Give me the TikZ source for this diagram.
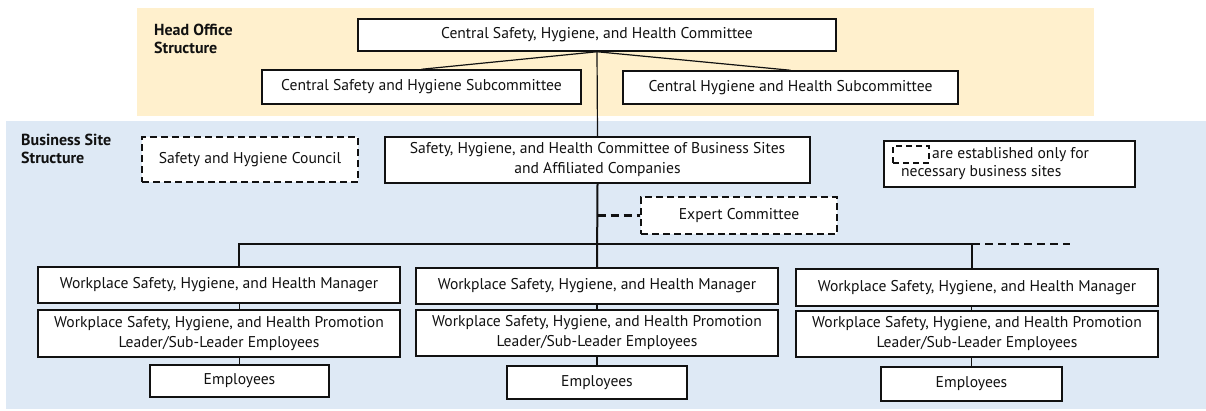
\documentclass[tikz,border=0pt]{standalone}
\usepackage{fontspec}
\setmainfont{PT Sans}
\definecolor{hqfill}{HTML}{FFF0CD}
\definecolor{bsfill}{HTML}{DEE9F5}
\definecolor{ink}{HTML}{111111}
\begin{document}
\begin{tikzpicture}[x=1pt,y=-1pt,
  txt/.style={font=\fontsize{15.6}{20}\selectfont,text=ink},
  box/.style={txt,draw=ink,line width=1.5pt,fill=white,inner sep=0pt,align=center},
  dbox/.style={box,dashed,dash pattern=on 7pt off 4pt,line width=1.8pt},
  lbl/.style={font=\bfseries\fontsize{16}{18}\selectfont,align=left,anchor=west,inner sep=0pt,text=ink},
  conn/.style={draw=ink,line width=1.2pt},
  thick conn/.style={draw=ink,line width=2pt},
  dconn/.style={draw=ink,line width=2.2pt,dash pattern=on 8pt off 5pt}]
\useasboundingbox (0,0) rectangle (1206,410);
\fill[hqfill] (137,8) rectangle (1094,116);
\fill[bsfill] (6,121) rectangle (1206,409);
\node[lbl] (hol) at (154,39) {Head Office\\Structure};
\node[lbl] (bsl) at (21,149) {Business Site\\Structure};
% head office
\node[box,minimum width=478pt,minimum height=32pt] (hq) at (597,35) {Central Safety, Hygiene, and Health Committee};
\node[box,minimum width=319pt,minimum height=34pt] (sub1) at (421.5,87) {Central Safety and Hygiene Subcommittee};
\node[box,minimum width=335pt,minimum height=33pt] (sub2) at (790.5,87.5) {Central Hygiene and Health Subcommittee};
% business site
\node[box,minimum width=425pt,minimum height=46pt] (bs) at (597.5,160) {Safety, Hygiene, and Health Committee of Business Sites\\and Affiliated Companies};
\node[dbox,minimum width=216pt,minimum height=45pt] (council) at (250,159.5) {Safety and Hygiene Council};
\node[box,minimum width=251pt,minimum height=46pt] (legend) at (1009.5,164) {};
\node[dbox,line width=1.6pt,dash pattern=on 6pt off 4pt,minimum width=36pt,minimum height=17pt] (key) at (911,154.5) {};
\node[txt,anchor=west,inner sep=0pt] (l1) at (932,155) {are established only for};
\node[txt,anchor=west,inner sep=0pt] (l2) at (901,173) {necessary business sites};
\node[dbox,minimum width=196pt,minimum height=37pt] (expert) at (739,215.5) {Expert Committee};
% workplaces
\node[box,minimum width=362pt,minimum height=36pt] (m1) at (219,285) {Workplace Safety, Hygiene, and Health Manager};
\node[box,minimum width=362pt,minimum height=36pt] (m2) at (597,286) {Workplace Safety, Hygiene, and Health Manager};
\node[box,minimum width=362pt,minimum height=37pt] (m3) at (977,287.5) {Workplace Safety, Hygiene, and Health Manager};
\node[box,minimum width=362pt,minimum height=47pt] (p1) at (219,333.5) {Workplace Safety, Hygiene, and Health Promotion\\Leader/Sub-Leader Employees};
\node[box,minimum width=362pt,minimum height=46pt] (p2) at (597,333) {Workplace Safety, Hygiene, and Health Promotion\\Leader/Sub-Leader Employees};
\node[box,minimum width=362pt,minimum height=46pt] (p3) at (977,334) {Workplace Safety, Hygiene, and Health Promotion\\Leader/Sub-Leader Employees};
\node[box,minimum width=179pt,minimum height=32pt] (e1) at (239.5,381) {Employees};
\node[box,minimum width=180pt,minimum height=33pt] (e2) at (597,382.5) {Employees};
\node[box,minimum width=181pt,minimum height=34pt] (e3) at (971.5,384) {Employees};
% connectors
\coordinate (bus1) at (239,244);
\coordinate (bus3) at (972,244);
\coordinate (busend) at (1070,244);
\draw[conn] (hq.south) -- (sub1.north);
\draw[conn] (hq.south) -- (sub2.north);
\draw[conn] (hq.south) -- (bs.north);
\draw[thick conn] (bs.south) -- (m2.north);
\draw[dconn] (bs.south |- expert.west) -- (expert.west);
\draw[conn,line width=1.7pt] (bus1 |- m1.north) -- (bus1) -- (bus3) -- (bus3 |- m3.north);
\draw[dconn] (bus3) -- (busend);
\draw[conn] (e1.north |- m1.south) -- (e1.north |- p1.north);
\draw[conn] (e1.north |- p1.south) -- (e1.north);
\draw[conn] (m2.south) -- (p2.north);
\draw[conn] (p2.south) -- (e2.north);
\draw[conn] (e3.north |- m3.south) -- (e3.north |- p3.north);
\draw[conn] (e3.north |- p3.south) -- (e3.north);
\end{tikzpicture}
\end{document}
